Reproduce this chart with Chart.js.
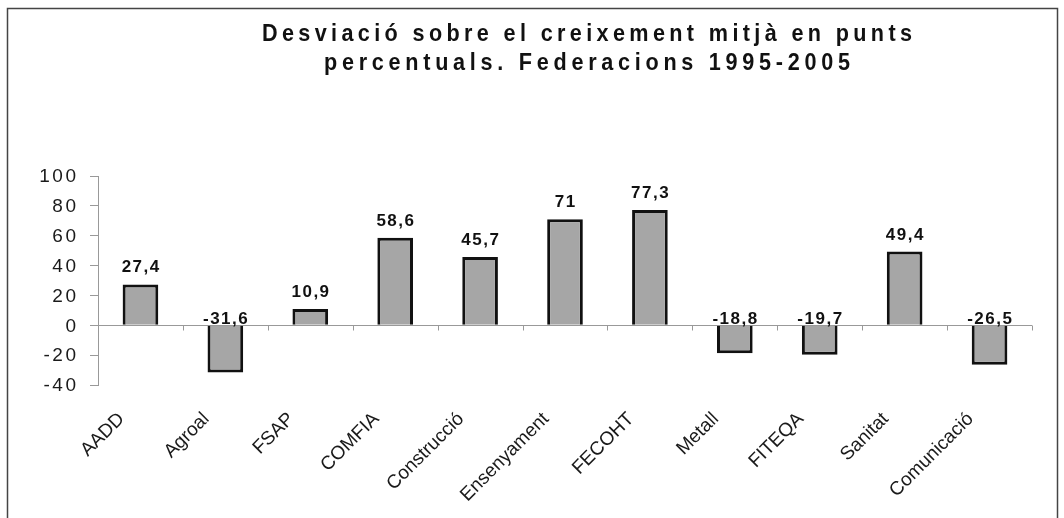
<!DOCTYPE html>
<html><head><meta charset="utf-8">
<script src="https://cdn.jsdelivr.net/npm/chart.js@4"></script>
<style>html,body{margin:0;padding:0;background:#fff}#wrap{width:1064px;height:518px}</style>
</head><body><div id="wrap"><canvas id="c" width="1064" height="518"></canvas></div>
<script>
const categories = ["AADD","Agroal","FSAP","COMFIA","Construcció","Ensenyament","FECOHT","Metall","FITEQA","Sanitat","Comunicació"];
const values = [27.4,-31.6,10.9,58.6,45.7,71,77.3,-18.8,-19.7,49.4,-26.5];
const yTicks = [100,80,60,40,20,0,-20,-40];
const titleLines = ["Desviació sobre el creixement mitjà en punts","percentuals. Federacions 1995-2005"];

const FONT = "'Liberation Sans', Arial, sans-serif";

const framePlugin = {
  id: 'frame',
  beforeDraw(chart) {
    const ctx = chart.ctx;
    ctx.save();
    ctx.fillStyle = '#fff';
    ctx.fillRect(0, 0, chart.width, chart.height);
    ctx.strokeStyle = '#444';
    ctx.lineWidth = 1.5;
    ctx.strokeRect(7.5, 8.5, 1050, 530);
    // title
    ctx.fillStyle = '#111';
    ctx.font = "bold 24px " + FONT;
    ctx.textAlign = 'left';
    ctx.textBaseline = 'alphabetic';
    const targets = [650, 526];
    const ys = [41, 70];
    const sx = 0.9;
    titleLines.forEach((t, i) => {
      ctx.letterSpacing = '0px';
      const w0 = ctx.measureText(t).width;
      const ls = (targets[i] / sx - w0) / (t.length - 1);
      ctx.letterSpacing = ls + 'px';
      ctx.save();
      ctx.translate(587 - targets[i] / 2, ys[i]);
      ctx.scale(sx, 1.0);
      ctx.fillText(t, 0, 0);
      ctx.restore();
    });
    ctx.restore();
    ctx.letterSpacing = '0px';
  },
  beforeDatasetsDraw(chart) {
    const ctx = chart.ctx;
    const y = chart.scales.y;
    const z = Math.round(y.getPixelForValue(0)) + 0.5;
    const a = chart.chartArea;
    ctx.save();
    ctx.strokeStyle = '#999';
    ctx.lineWidth = 1;
    ctx.beginPath();
    ctx.moveTo(a.left, z); ctx.lineTo(a.right, z);
    const n = categories.length;
    for (let i = 1; i <= n; i++) {
      const px = Math.round(a.left + (a.right - a.left) * i / n) + 0.5;
      ctx.moveTo(px, z); ctx.lineTo(px, z + 5);
    }
    ctx.stroke();
    // y labels
    ctx.fillStyle = '#1a1a1a';
    ctx.font = "19px " + FONT;
    ctx.letterSpacing = '2.5px';
    ctx.textAlign = 'right';
    ctx.textBaseline = 'middle';
    yTicks.forEach(v => {
      ctx.fillText(String(v), 76 + 2.5, y.getPixelForValue(v) + 1);
    });
    ctx.restore();
    ctx.letterSpacing = '0px';
  },
  afterDatasetsDraw(chart) {
    const ctx = chart.ctx;
    const y = chart.scales.y;
    const z = y.getPixelForValue(0);
    const meta = chart.getDatasetMeta(0);
    ctx.save();
    ctx.fillStyle = '#111';
    ctx.font = "bold 17px " + FONT;
    ctx.letterSpacing = '1.5px';
    ctx.textAlign = 'center';
    ctx.textBaseline = 'alphabetic';
    meta.data.forEach((bar, i) => {
      const v = values[i];
      const t = String(v).replace('.', ',');
      const ty = v >= 0 ? bar.y - 12 : z - 1;
      ctx.fillText(t, bar.x + 0.75, ty);
    });
    ctx.restore();
    ctx.letterSpacing = '0px';
  }
};

new Chart(document.getElementById('c'), {
  type: 'bar',
  data: {
    labels: categories,
    datasets: [{
      data: values,
      backgroundColor: '#a6a6a6',
      borderColor: '#111',
      borderWidth: 3,
      barPercentage: 0.42,
      categoryPercentage: 1.0
    }]
  },
  options: {
    responsive: false,
    animation: false,
    layout: { padding: { top: 176, right: 32, left: 0, bottom: 0 } },
    plugins: { legend: { display: false }, title: { display: false }, tooltip: { enabled: false } },
    scales: {
      x: {
        grid: { display: false },
        border: { display: false },
        ticks: {
          color: '#1a1a1a',
          font: { size: 19, family: FONT },
          minRotation: 45, maxRotation: 45,
          padding: 15,
          labelOffset: -19,
          autoSkip: false
        },
        afterFit(s) { s.height = 133; }
      },
      y: {
        min: -40, max: 100,
        ticks: { stepSize: 20, color: 'transparent', font: { size: 17, family: FONT } },
        grid: { drawOnChartArea: false, drawTicks: true, tickLength: 8, color: '#999' },
        border: { color: '#999' },
        afterFit(s) { s.width = 98; }
      }
    }
  },
  plugins: [framePlugin]
});
</script>
</body></html>
